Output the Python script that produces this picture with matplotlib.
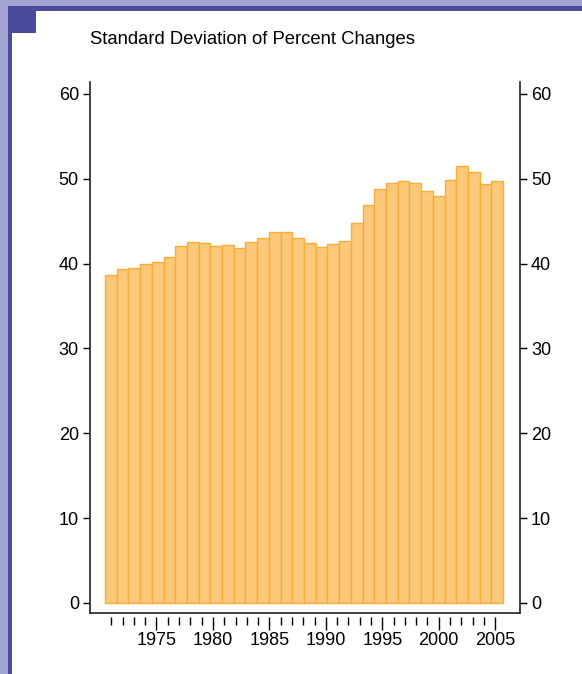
import matplotlib
matplotlib.use("Agg")
import matplotlib.pyplot as plt
from matplotlib.patches import Rectangle
import numpy as np

plt.rcParams['font.family'] = ['Liberation Sans', 'DejaVu Sans']

title = "Standard Deviation of Percent Changes"
years = np.arange(1971, 2005)
std_dev = [38.7, 39.4, 39.5, 40.0, 40.2, 40.8, 42.1, 42.6, 42.4, 42.1,
           42.2, 41.9, 42.6, 43.0, 43.7, 43.7, 43.0, 42.4, 42.0, 42.3,
           42.7, 44.8, 46.9, 48.8, 49.5, 49.7, 49.5, 48.6, 48.0, 49.9,
           51.5, 50.8, 49.4, 49.7]
y_ticks = [0, 10, 20, 30, 40, 50, 60]
x_labels = [1975, 1980, 1985, 1990, 1995, 2000, 2005]

W, H = 582, 674
fig = plt.figure(figsize=(W / 100, H / 100), dpi=100)
fig.patch.set_facecolor('#a4a4d0')

def box(x0, y0, x1, y1, color):
    # pixel box, top-left origin
    fig.add_artist(Rectangle((x0 / W, 1 - y1 / H), (x1 - x0) / W, (y1 - y0) / H,
                             transform=fig.transFigure, facecolor=color,
                             edgecolor='none', zorder=0))

box(8.3, 6, W, H, '#4b4b9d')
box(12.3, 11, W, H, 'white')
box(8.3, 6, 36, 33, '#4b4b9d')

ax = fig.add_axes([90 / W, 1 - 613 / H, 430 / W, 531 / H])
ax.set_facecolor('none')

# bars span slightly more than one year each
step = 1.037
left = 1970.44 + (years - years[0]) * step
ax.bar(left, std_dev, width=step, align='edge', color='#fcc879',
       edgecolor='#f8ad3a', linewidth=1.0)

ax.set_xlim(1969.11, 2007.2)
ax.set_ylim(-1.18, 61.41)

ax.spines['top'].set_visible(False)
ax.spines['bottom'].set_position(('outward', 3))
ax.spines['bottom'].set_visible(False)
ax.plot([0, 1], [0, 0], transform=ax.transAxes, color='#222222', lw=1.2,
        clip_on=False, solid_capstyle='projecting')
for s in ['left', 'right']:
    ax.spines[s].set_linewidth(1.2)
    ax.spines[s].set_color('#222222')

ax.set_yticks(y_ticks)
ax.tick_params(axis='y', which='both', left=True, right=True, labelleft=True,
               labelright=True, length=5, width=1, pad=3, labelsize=13)
ax.set_xticks(x_labels)
ax.set_xticks(years, minor=True)
ax.tick_params(axis='x', which='major', length=9, width=1, pad=1.5, labelsize=13)
ax.tick_params(axis='x', which='minor', length=6, width=1)

fig.text(90 / W, 1 - 40 / H, title, fontsize=13.3, va='center', ha='left')

fig.savefig('out.png', dpi=100)
